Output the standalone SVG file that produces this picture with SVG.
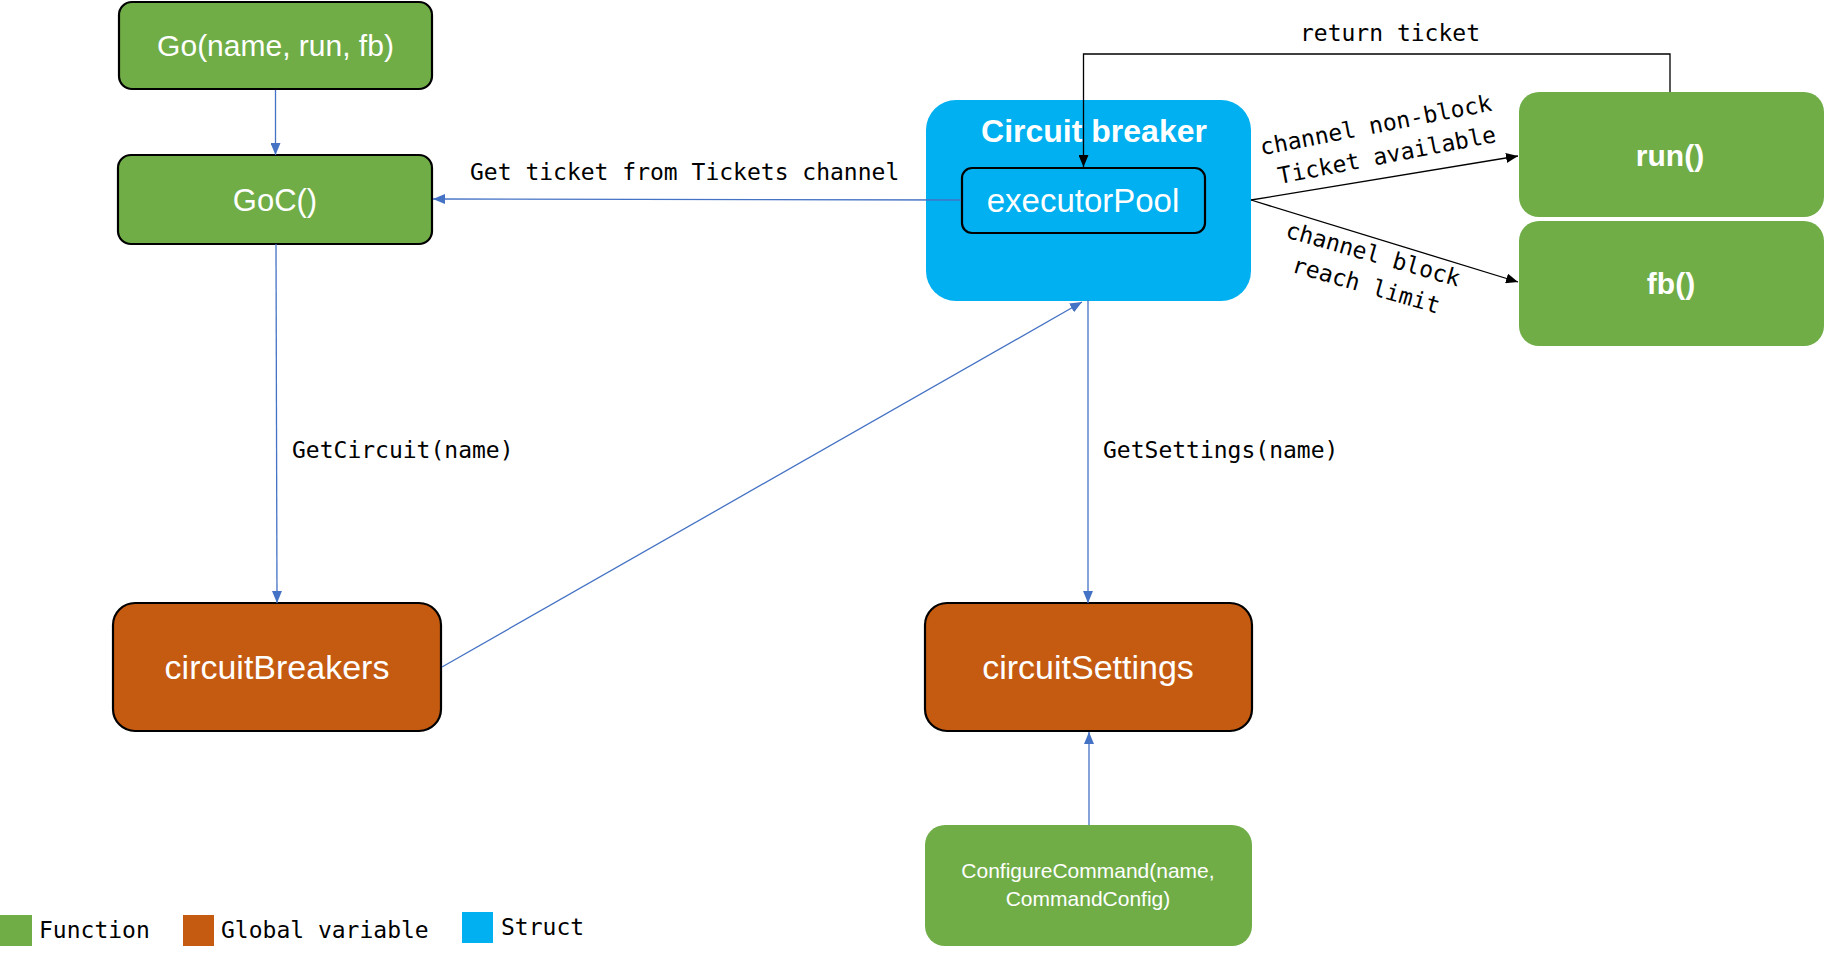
<svg xmlns="http://www.w3.org/2000/svg" width="1825" height="961" viewBox="0 0 1825 961">
<style>
.fn{fill:#70AD47}
.gv{fill:#C55A11}
.st{fill:#00B0F0}
.bd{stroke:#000;stroke-width:2.2}
.lbl{font-family:"Liberation Sans",Arial,sans-serif;fill:#fff;text-anchor:middle}
.b{font-weight:bold}
.mono{font-family:"DejaVu Sans Mono","Liberation Mono",monospace;font-size:23px;fill:#000}
.c{stroke:#4472C4;stroke-width:1.3;fill:none}
.k{stroke:#000;stroke-width:1.3;fill:none}
</style>
<defs>
<marker id="ab" markerUnits="userSpaceOnUse" markerWidth="13" markerHeight="10" refX="12" refY="5" orient="auto"><path d="M0,0 L12,5 L0,10 z" fill="#4472C4"/></marker>
<marker id="ak" markerUnits="userSpaceOnUse" markerWidth="13" markerHeight="10" refX="12" refY="5" orient="auto"><path d="M0,0 L12,5 L0,10 z" fill="#000"/></marker>
</defs>
<rect width="1825" height="961" fill="#fff"/>
<g id="go">
<rect class="fn bd" x="119" y="2" width="313" height="87" rx="13"/>
<text class="lbl" x="275.5" y="56" font-size="30">Go(name, run, fb)</text>
</g>
<g id="goc">
<rect class="fn bd" x="118" y="155" width="314" height="89" rx="13"/>
<text class="lbl" x="275" y="211" font-size="31">GoC()</text>
</g>
<g id="circuitBreaker">
<rect class="st" x="926" y="100" width="325" height="201" rx="30"/>
<text class="lbl b" x="1094" y="142" font-size="32">Circuit breaker</text>
</g>
<g id="executorPool">
<rect class="st bd" x="962" y="168" width="243" height="65" rx="10"/>
<text class="lbl" x="1083" y="212" font-size="33">executorPool</text>
</g>
<g id="run">
<rect class="fn" x="1519" y="92" width="305" height="125" rx="20"/>
<text class="lbl b" x="1670" y="166" font-size="30">run()</text>
</g>
<g id="fb">
<rect class="fn" x="1519" y="221" width="305" height="125" rx="20"/>
<text class="lbl b" x="1671" y="294" font-size="30">fb()</text>
</g>
<g id="circuitBreakers">
<rect class="gv bd" x="113" y="603" width="328" height="128" rx="22"/>
<text class="lbl" x="277" y="679" font-size="34">circuitBreakers</text>
</g>
<g id="circuitSettings">
<rect class="gv bd" x="925" y="603" width="327" height="128" rx="22"/>
<text class="lbl" x="1088" y="679" font-size="34">circuitSettings</text>
</g>
<g id="configureCommand">
<rect class="fn" x="925" y="825" width="327" height="121" rx="20"/>
<text class="lbl" x="1088" y="878" font-size="21">ConfigureCommand(name,</text>
<text class="lbl" x="1088" y="906" font-size="21">CommandConfig)</text>
</g>
<g id="legend">
<rect class="fn" x="0" y="915" width="32" height="31"/>
<text class="mono" x="39" y="938">Function</text>
<rect class="gv" x="183" y="915" width="31" height="31"/>
<text class="mono" x="221" y="938">Global variable</text>
<rect class="st" x="462" y="912" width="31" height="31"/>
<text class="mono" x="501" y="935">Struct</text>
</g>
<g id="connectors">
<line class="c" x1="275.5" y1="90" x2="275.5" y2="155" marker-end="url(#ab)"/>
<line class="c" x1="276" y1="244" x2="277" y2="603" marker-end="url(#ab)"/>
<line class="c" x1="961" y1="200" x2="433" y2="199" marker-end="url(#ab)"/>
<line class="c" x1="442" y1="667" x2="1082" y2="302" marker-end="url(#ab)"/>
<line class="c" x1="1088" y1="300" x2="1088" y2="603" marker-end="url(#ab)"/>
<line class="c" x1="1089" y1="825" x2="1089" y2="732" marker-end="url(#ab)"/>
<line class="k" x1="1251" y1="200" x2="1518" y2="156" marker-end="url(#ak)"/>
<line class="k" x1="1251" y1="200" x2="1518" y2="282" marker-end="url(#ak)"/>
<path class="k" d="M1670,92 V54 H1083.5 V167" stroke="#333" marker-end="url(#ak)"/>
<text class="mono" x="1390" y="41" text-anchor="middle">return ticket</text>
<text class="mono" x="470" y="180">Get ticket from Tickets channel</text>
<text class="mono" x="292" y="458">GetCircuit(name)</text>
<text class="mono" x="1103" y="458">GetSettings(name)</text>
<text class="mono" text-anchor="middle" transform="translate(1376,126) rotate(-11)" y="7">channel non-block</text>
<text class="mono" text-anchor="middle" transform="translate(1387,156) rotate(-11)" y="7">Ticket available</text>
<text class="mono" text-anchor="middle" transform="translate(1373,255) rotate(16)" y="7">channel block</text>
<text class="mono" text-anchor="middle" transform="translate(1366,286) rotate(16)" y="7">reach limit</text>
</g>
</svg>
